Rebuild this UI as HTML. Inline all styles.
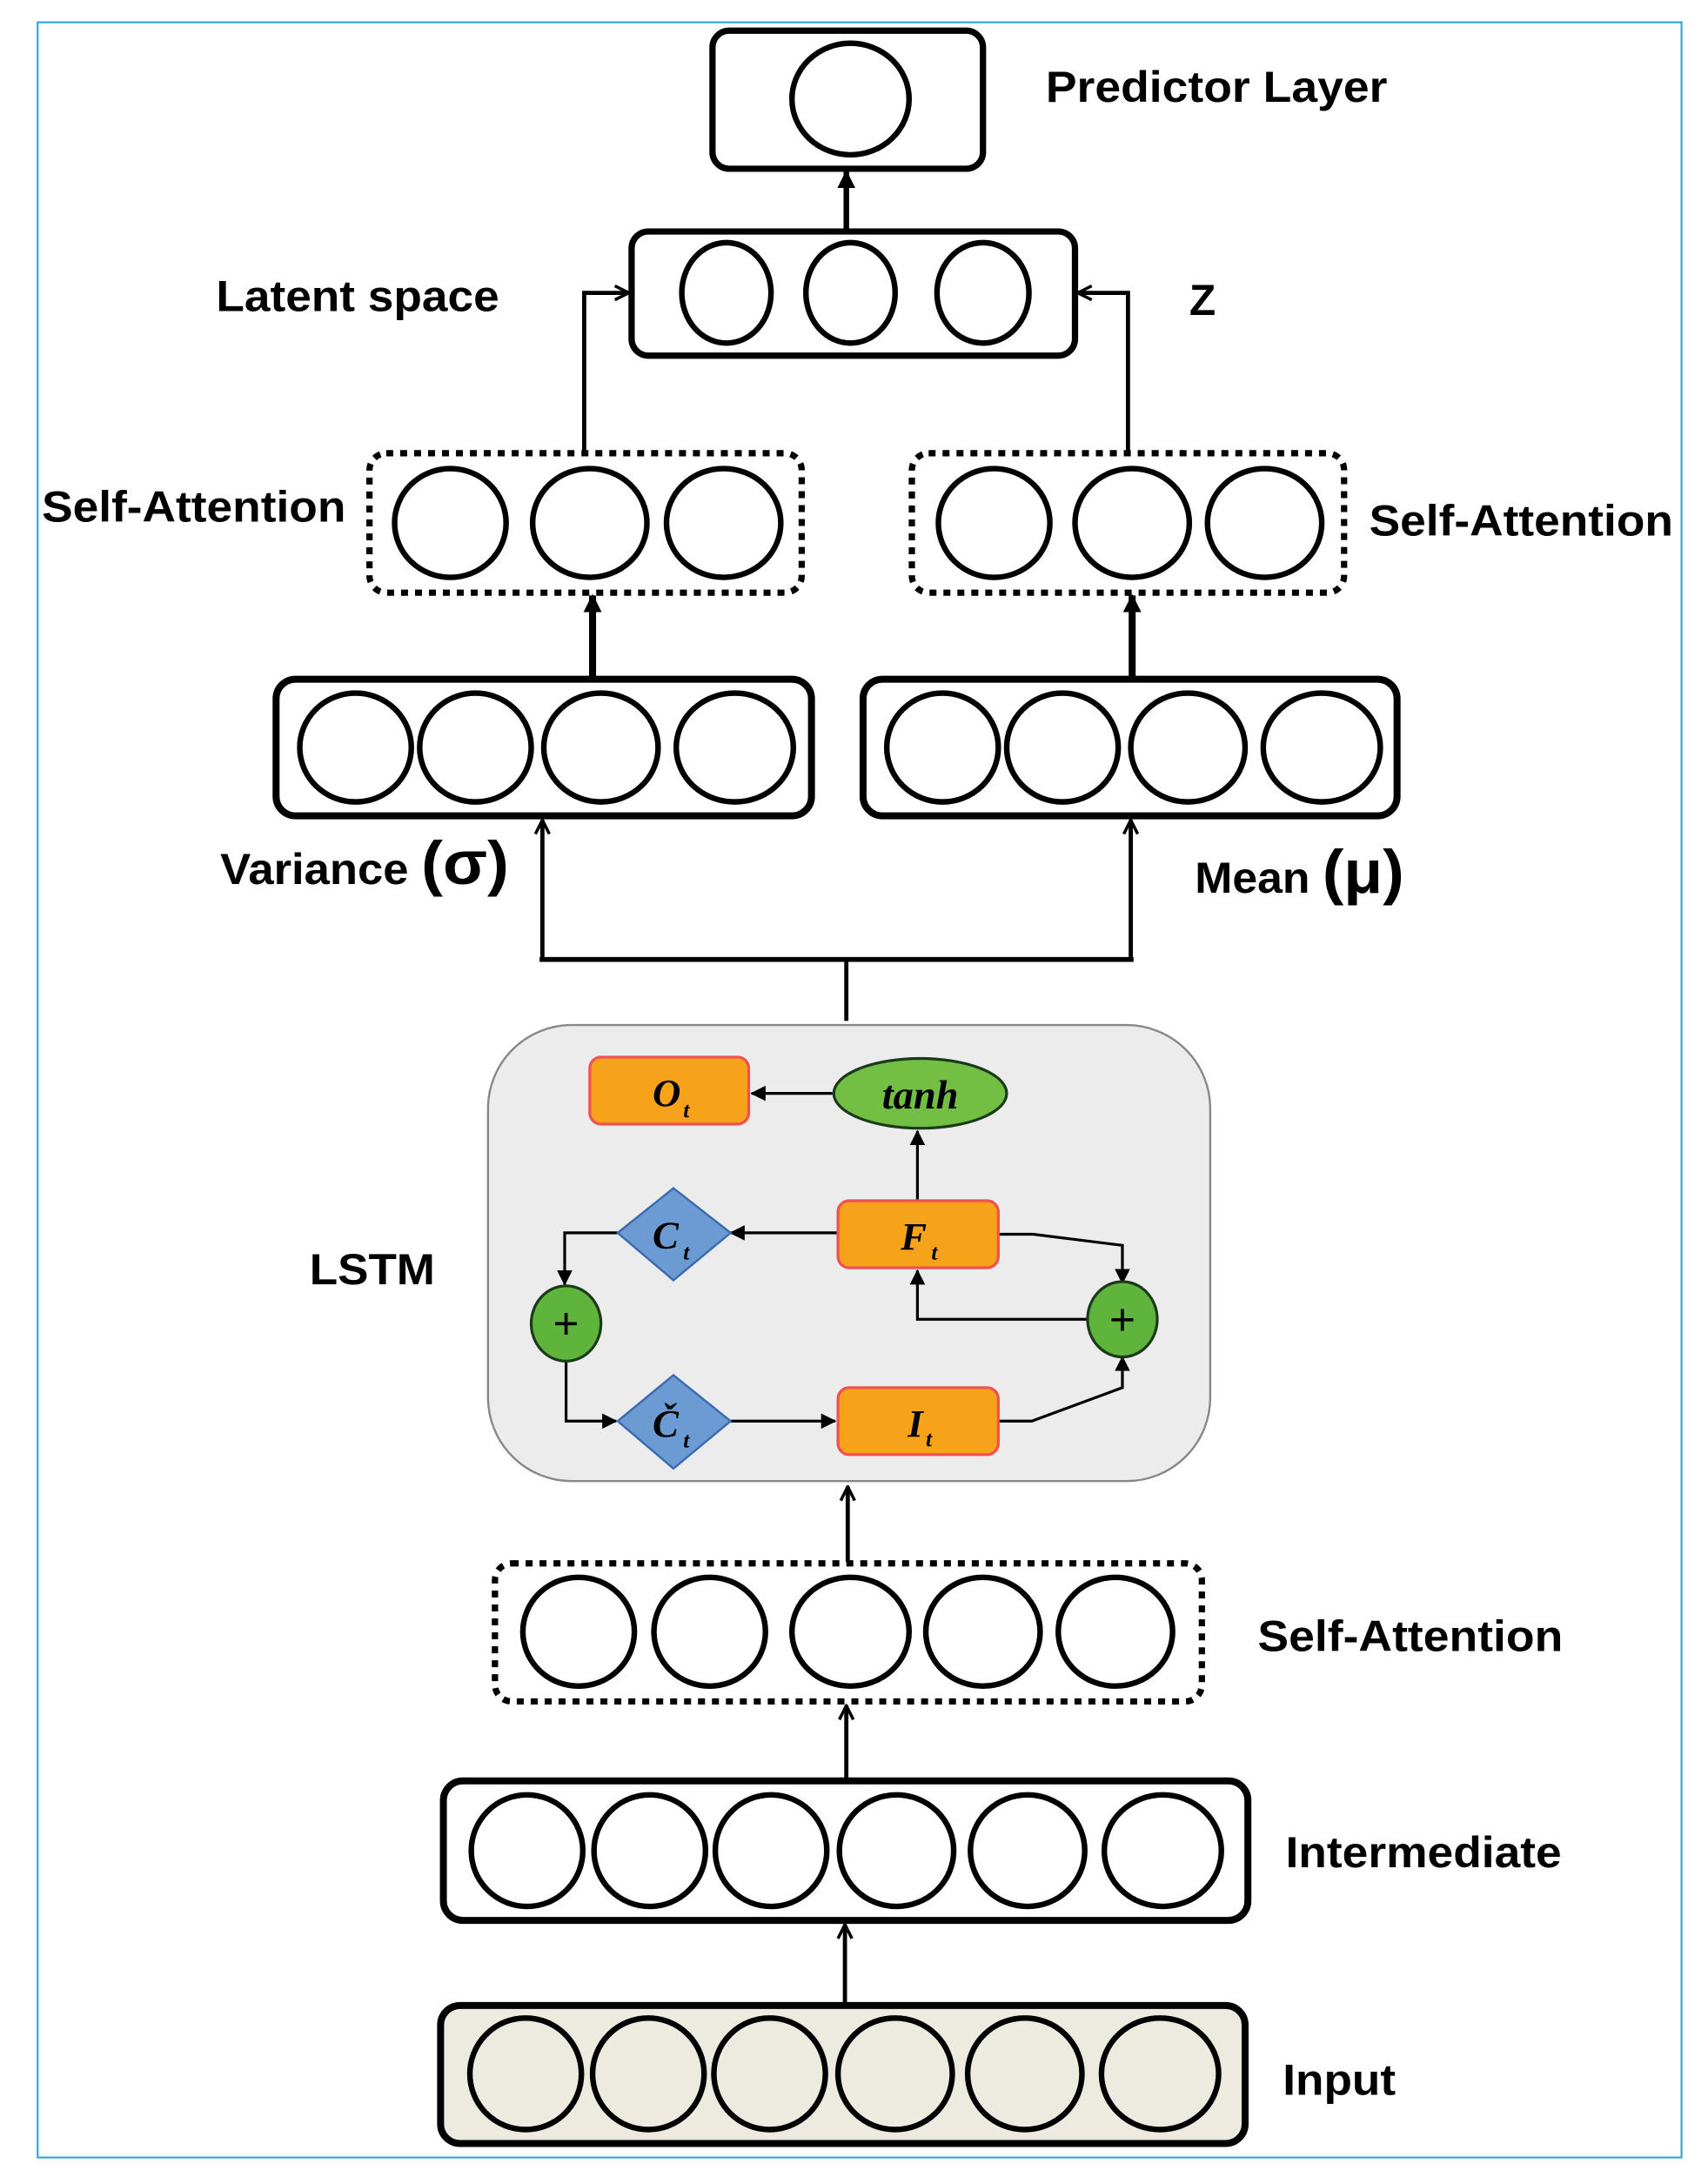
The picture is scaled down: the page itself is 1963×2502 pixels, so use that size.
<!DOCTYPE html>
<html><head><meta charset="utf-8"><style>
html,body{margin:0;padding:0;background:#fff;}
svg{display:block;}
.lbl{font-family:"Liberation Sans",sans-serif;font-weight:bold;font-size:31px;fill:#000;}
.m{font-family:"Liberation Serif",serif;font-style:italic;font-weight:bold;fill:#000;}
</style></head><body>
<svg width="1963" height="2502" viewBox="0 0 1225 1561" preserveAspectRatio="none" xmlns="http://www.w3.org/2000/svg">
<defs>
<marker id="op" viewBox="0 0 12 12" refX="11" refY="6" markerWidth="12" markerHeight="12" markerUnits="userSpaceOnUse" orient="auto"><path d="M1,1 L11,6 L1,11" fill="none" stroke="#000" stroke-width="2.2"/></marker>
<marker id="fa" viewBox="0 0 12 12" refX="11" refY="6" markerWidth="13" markerHeight="13" markerUnits="userSpaceOnUse" orient="auto"><path d="M0,0 L12,6 L0,12 z" fill="#000"/></marker>
<marker id="sa" viewBox="0 0 12 12" refX="11" refY="6" markerWidth="11" markerHeight="11" markerUnits="userSpaceOnUse" orient="auto"><path d="M0,0 L12,6 L0,12 z" fill="#000"/></marker>
</defs>
<rect x="0" y="0" width="1225" height="1561" fill="#fff"/>
<rect x="27" y="16" width="1179" height="1531" fill="none" stroke="#29a3e0" stroke-width="1.3"/>

<g fill="none" stroke="#000">
<rect x="511" y="22" width="194" height="99" rx="12" stroke-width="4.5"/>
<ellipse cx="610" cy="71" rx="42" ry="40" stroke-width="4"/>
<line x1="607" y1="166" x2="607" y2="123" stroke-width="4" marker-end="url(#fa)"/>
<rect x="453" y="166" width="318" height="89" rx="12" stroke-width="4.5"/>
<ellipse cx="521" cy="210" rx="32" ry="36" stroke-width="4"/>
<ellipse cx="610" cy="210" rx="32" ry="36" stroke-width="4"/>
<ellipse cx="705" cy="210" rx="33" ry="36" stroke-width="4"/>
<polyline points="419,325 419,210 451,210" stroke-width="3" marker-end="url(#op)"/>
<polyline points="809,325 809,210 773,210" stroke-width="3" marker-end="url(#op)"/>
<rect x="265" y="325" width="310" height="100" rx="12" stroke-width="4.5" stroke-dasharray="5,5"/>
<ellipse cx="323" cy="375" rx="40" ry="39" stroke-width="4"/>
<ellipse cx="423" cy="375" rx="41" ry="39" stroke-width="4"/>
<ellipse cx="519" cy="375" rx="41" ry="39" stroke-width="4"/>
<rect x="654" y="325" width="310" height="100" rx="12" stroke-width="4.5" stroke-dasharray="5,5"/>
<ellipse cx="713" cy="375" rx="40" ry="39" stroke-width="4"/>
<ellipse cx="812" cy="375" rx="41" ry="39" stroke-width="4"/>
<ellipse cx="907" cy="375" rx="41" ry="39" stroke-width="4"/>
<line x1="425" y1="487" x2="425" y2="427" stroke-width="5" marker-end="url(#fa)"/>
<line x1="812" y1="487" x2="812" y2="427" stroke-width="5" marker-end="url(#fa)"/>
<rect x="198" y="487" width="384" height="98" rx="14" stroke-width="5"/>
<ellipse cx="255" cy="536" rx="40" ry="39" stroke-width="4"/>
<ellipse cx="341" cy="536" rx="40" ry="39" stroke-width="4"/>
<ellipse cx="431" cy="536" rx="41" ry="39" stroke-width="4"/>
<ellipse cx="527" cy="536" rx="42" ry="39" stroke-width="4"/>
<rect x="619" y="487" width="383" height="98" rx="14" stroke-width="5"/>
<ellipse cx="676" cy="536" rx="40" ry="39" stroke-width="4"/>
<ellipse cx="762" cy="536" rx="40" ry="39" stroke-width="4"/>
<ellipse cx="852" cy="536" rx="41" ry="39" stroke-width="4"/>
<ellipse cx="948" cy="536" rx="42" ry="39" stroke-width="4"/>
<polyline points="389,688 389,588" stroke-width="3" marker-end="url(#op)"/>
<polyline points="811,688 811,588" stroke-width="3" marker-end="url(#op)"/>
<line x1="387" y1="688" x2="813" y2="688" stroke-width="3.5"/>
<line x1="607" y1="688" x2="607" y2="732" stroke-width="3"/>
</g>

<rect x="350" y="735" width="518" height="327" rx="60" fill="#ececec" stroke="#888" stroke-width="1.5"/>
<g stroke="#000" stroke-width="2" fill="none">
<line x1="597" y1="784" x2="539" y2="784" marker-end="url(#sa)"/>
<line x1="658" y1="860" x2="658" y2="811" marker-end="url(#sa)"/>
<line x1="601" y1="884" x2="524" y2="884" marker-end="url(#sa)"/>
<polyline points="716,885 741,885 805,893 805,920" marker-end="url(#sa)"/>
<polyline points="780,946 658,946 658,911" marker-end="url(#sa)"/>
<polyline points="443,884 405,884 405,921" marker-end="url(#sa)"/>
<polyline points="406,976 406,1019 442,1019" marker-end="url(#sa)"/>
<line x1="524" y1="1019" x2="599" y2="1019" marker-end="url(#sa)"/>
<polyline points="716,1019 740,1019 805,995 805,973" marker-end="url(#sa)"/>
</g>
<rect x="423" y="758" width="114" height="48" rx="8" fill="#f7a21b" stroke="#f05050" stroke-width="2"/>
<text x="468" y="793" class="m" font-size="28">O</text><text x="490" y="801" class="m" font-size="16">t</text>
<ellipse cx="660" cy="784" rx="62" ry="25" fill="#72bf44" stroke="#1a3a1a" stroke-width="2"/>
<text x="660" y="795" class="m" font-size="29" text-anchor="middle">tanh</text>
<rect x="601" y="861" width="115" height="48" rx="8" fill="#f7a21b" stroke="#f05050" stroke-width="2"/>
<text x="646" y="896" class="m" font-size="28">F</text><text x="668" y="903" class="m" font-size="16">t</text>
<rect x="601" y="995" width="115" height="48" rx="8" fill="#f7a21b" stroke="#f05050" stroke-width="2"/>
<text x="651" y="1030" class="m" font-size="28">I</text><text x="664" y="1037" class="m" font-size="16">t</text>
<polygon points="483,852 524,884 483,918 443,884" fill="#6b9bd2" stroke="#3a6ab0" stroke-width="1.5"/>
<text x="468" y="895" class="m" font-size="28">C</text><text x="490" y="903" class="m" font-size="16">t</text>
<polygon points="483,986 524,1019 483,1053 443,1019" fill="#6b9bd2" stroke="#3a6ab0" stroke-width="1.5"/>
<text x="468" y="1030" class="m" font-size="28">Č</text><text x="490" y="1038" class="m" font-size="16">t</text>
<ellipse cx="406" cy="949" rx="25" ry="27" fill="#5fb43c" stroke="#1a3a1a" stroke-width="2"/>
<text x="406" y="960" font-family="Liberation Sans,sans-serif" font-size="32" text-anchor="middle">+</text>
<ellipse cx="805" cy="946" rx="25" ry="27" fill="#5fb43c" stroke="#1a3a1a" stroke-width="2"/>
<text x="805" y="957" font-family="Liberation Sans,sans-serif" font-size="32" text-anchor="middle">+</text>

<g fill="none" stroke="#000">
<line x1="608" y1="1120" x2="608" y2="1066" stroke-width="3" marker-end="url(#op)"/>
<rect x="355" y="1121" width="507" height="99" rx="12" stroke-width="4.5" stroke-dasharray="5,5"/>
<ellipse cx="415" cy="1170" rx="40" ry="39" stroke-width="4"/>
<ellipse cx="509" cy="1170" rx="40" ry="39" stroke-width="4"/>
<ellipse cx="610" cy="1170" rx="42" ry="39" stroke-width="4"/>
<ellipse cx="705" cy="1170" rx="41" ry="39" stroke-width="4"/>
<ellipse cx="800" cy="1170" rx="41" ry="39" stroke-width="4"/>
<line x1="607" y1="1276" x2="607" y2="1223" stroke-width="3" marker-end="url(#op)"/>
<rect x="318" y="1277" width="577" height="100" rx="14" stroke-width="5"/>
<ellipse cx="378" cy="1327" rx="40" ry="40" stroke-width="4"/>
<ellipse cx="466" cy="1327" rx="40" ry="40" stroke-width="4"/>
<ellipse cx="553" cy="1327" rx="40" ry="40" stroke-width="4"/>
<ellipse cx="643" cy="1327" rx="41" ry="40" stroke-width="4"/>
<ellipse cx="737" cy="1327" rx="41" ry="40" stroke-width="4"/>
<ellipse cx="834" cy="1327" rx="42" ry="40" stroke-width="4"/>
<line x1="606" y1="1438" x2="606" y2="1380" stroke-width="3" marker-end="url(#op)"/>
<rect x="316" y="1438" width="577" height="99" rx="14" stroke-width="5" fill="#edeae0"/>
<ellipse cx="377" cy="1487" rx="40" ry="40" stroke-width="4" fill="#edeae0"/>
<ellipse cx="465" cy="1487" rx="40" ry="40" stroke-width="4" fill="#edeae0"/>
<ellipse cx="552" cy="1487" rx="40" ry="40" stroke-width="4" fill="#edeae0"/>
<ellipse cx="642" cy="1487" rx="41" ry="40" stroke-width="4" fill="#edeae0"/>
<ellipse cx="735" cy="1487" rx="41" ry="40" stroke-width="4" fill="#edeae0"/>
<ellipse cx="832" cy="1487" rx="42" ry="40" stroke-width="4" fill="#edeae0"/>
</g>

<text x="750" y="73" class="lbl" textLength="245" lengthAdjust="spacingAndGlyphs">Predictor Layer</text>
<text x="155" y="223" class="lbl" textLength="203" lengthAdjust="spacingAndGlyphs">Latent space</text>
<text x="853" y="226" class="lbl">Z</text>
<text x="30" y="374" class="lbl" textLength="218" lengthAdjust="spacingAndGlyphs">Self-Attention</text>
<text x="982" y="384" class="lbl" textLength="218" lengthAdjust="spacingAndGlyphs">Self-Attention</text>
<text x="158" y="634" class="lbl" textLength="207" lengthAdjust="spacingAndGlyphs">Variance <tspan font-size="44">(σ)</tspan></text>
<text x="857" y="640" class="lbl" textLength="150" lengthAdjust="spacingAndGlyphs">Mean <tspan font-size="44">(μ)</tspan></text>
<text x="222" y="921" class="lbl" textLength="90" lengthAdjust="spacingAndGlyphs">LSTM</text>
<text x="902" y="1184" class="lbl" textLength="219" lengthAdjust="spacingAndGlyphs">Self-Attention</text>
<text x="922" y="1339" class="lbl" textLength="198" lengthAdjust="spacingAndGlyphs">Intermediate</text>
<text x="920" y="1502" class="lbl" textLength="81" lengthAdjust="spacingAndGlyphs">Input</text>
</svg>
</body></html>
